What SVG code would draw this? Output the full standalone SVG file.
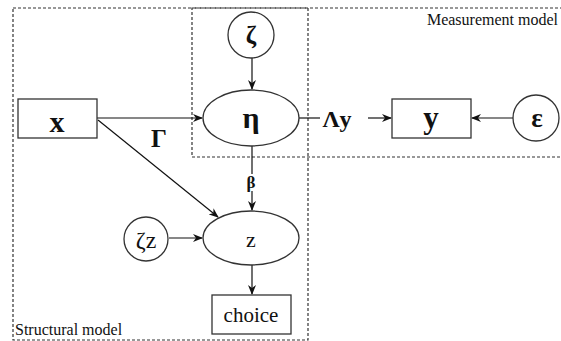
<svg xmlns="http://www.w3.org/2000/svg" width="561" height="341" viewBox="0 0 561 341">
<style>
.node{fill:#fff;stroke:#333;stroke-width:1.3}
.edge{stroke:#111;stroke-width:1.2;fill:none}
.dash{fill:none;stroke:#333;stroke-width:1.2;stroke-dasharray:3 2}
text{font-family:"Liberation Serif","Times New Roman",serif;fill:#111;text-anchor:middle}
.b{font-weight:bold}
.lab{font-size:16px}
</style>
<defs>
<marker id="ah" markerWidth="10" markerHeight="8" refX="9" refY="4" orient="auto" markerUnits="userSpaceOnUse">
<path d="M0,0 L10,4 L0,8 L3,4 Z" fill="#111"/>
</marker>
</defs>
<rect width="561" height="341" fill="#fff"/>
<g id="structural-model">
<path class="dash" d="M13,8 H308 V340 H13 Z"/>
<text class="lab" x="15" y="335" style="text-anchor:start">Structural model</text>
</g>
<g id="measurement-model">
<path class="dash" d="M563,8 H192 V157 H563"/>
<text class="lab" x="558" y="25" style="text-anchor:end">Measurement model</text>
</g>
<g id="connectors">
<line class="edge" x1="97" y1="118" x2="202" y2="118" marker-end="url(#ah)"/>
<line class="edge" x1="98" y1="120" x2="218" y2="217" marker-end="url(#ah)"/>
<line class="edge" x1="252" y1="58" x2="252" y2="89" marker-end="url(#ah)"/>
<line class="edge" x1="252" y1="146" x2="252" y2="174"/>
<line class="edge" x1="252" y1="191" x2="252" y2="210" marker-end="url(#ah)"/>
<line class="edge" x1="169" y1="238" x2="202" y2="238" marker-end="url(#ah)"/>
<line class="edge" x1="252" y1="265" x2="252" y2="294" marker-end="url(#ah)"/>
<line class="edge" x1="299" y1="118" x2="320" y2="118"/>
<line class="edge" x1="368" y1="118" x2="391" y2="118" marker-end="url(#ah)"/>
<line class="edge" x1="513" y1="118" x2="472" y2="118" marker-end="url(#ah)"/>
<text class="b" x="159" y="147" font-size="25">Γ</text>
<text class="b" x="251" y="188" font-size="17">β</text>
<text class="b" x="337" y="127" font-size="24">Λy</text>
</g>
<g id="x">
<rect class="node" x="18" y="99" width="79" height="39"/>
<text class="b" x="57" y="132" font-size="30">x</text>
</g>
<g id="zeta">
<circle class="node" cx="251" cy="35" r="23"/>
<text class="b" x="251" y="44" font-size="25">ζ</text>
</g>
<g id="eta">
<ellipse class="node" cx="251" cy="118" rx="48" ry="28"/>
<text class="b" x="251" y="128" font-size="30">η</text>
</g>
<g id="y">
<rect class="node" x="392" y="99" width="79" height="39"/>
<text class="b" x="431" y="128" font-size="31">y</text>
</g>
<g id="epsilon">
<circle class="node" cx="536" cy="118" r="23"/>
<text class="b" x="537" y="127" font-size="27">ε</text>
</g>
<g id="zeta-z">
<circle class="node" cx="146" cy="239" r="22"/>
<text x="146" y="248" font-size="24">ζz</text>
</g>
<g id="z">
<ellipse class="node" cx="251" cy="238" rx="48" ry="27"/>
<text x="251" y="247" font-size="22">z</text>
</g>
<g id="choice">
<rect class="node" x="212" y="295" width="79" height="39"/>
<text x="251" y="322" font-size="21">choice</text>
</g>
</svg>
